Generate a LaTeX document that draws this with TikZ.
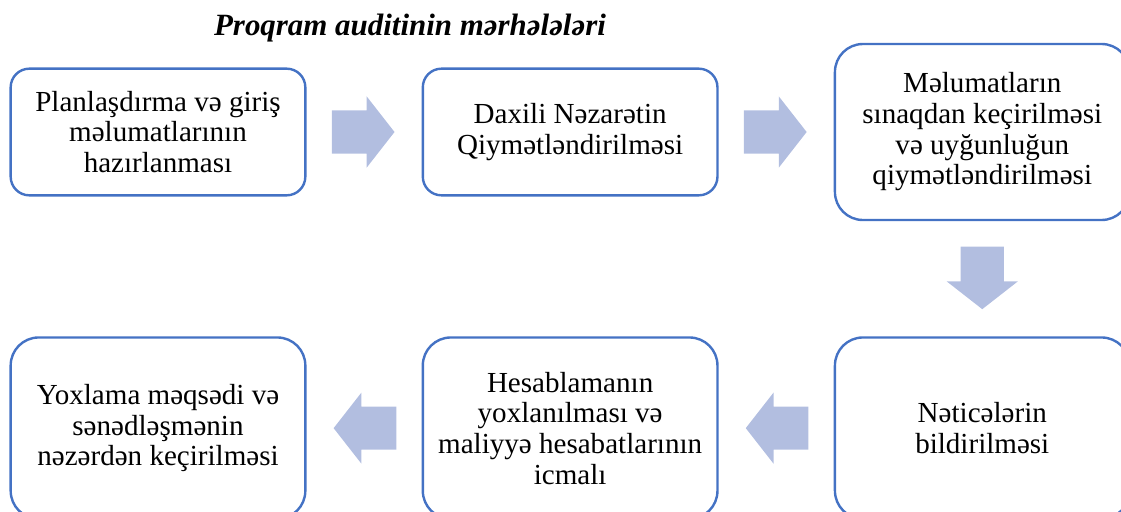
\documentclass[tikz,border=0pt]{standalone}
\usepackage{fontspec}
\setmainfont{Liberation Serif}
\usepackage{tikz}
\usetikzlibrary{positioning}
\usetikzlibrary{shapes,arrows,calc}
\definecolor{boxblue}{RGB}{68,114,196}
\definecolor{arrowfill}{RGB}{178,190,224}

\begin{document}
\begin{tikzpicture}[x=0.75pt, y=-0.75pt, node distance=86.3pt,
    stage/.style={draw=boxblue, line width=1.8pt, rectangle, rounded corners=14pt,
      fill=white, align=center, minimum width=221pt, inner sep=4pt,
      font=\fontsize{21.8}{23}\selectfont},
    tall/.style={rounded corners=21pt, minimum height=136pt},
    flowarrow/.style={single arrow, fill=arrowfill, inner xsep=0pt, inner ysep=16pt,
      minimum height=47pt, minimum width=53pt,
      single arrow head extend=10.5pt, single arrow tip angle=104,
      rotate=#1, xshift=-7pt},
    flowarrow/.default=0]
    \useasboundingbox (0,0) rectangle (1121,511);
    \clip (0,0) rectangle (1121,511);
    % Title
    \node [anchor=base, font=\fontsize{23.2}{25}\selectfont\bfseries\itshape] (title) at (410,35) {Proqram auditinin mərhələləri};
    % Nodes
    \node [stage, minimum height=95pt] (plan) at (158,132) {Planlaşdırma və giriş\\ məlumatlarının\\ hazırlanması};
    \node [stage, minimum height=95pt, right=of plan] (control) {Daxili Nəzarətin\\ Qiymətləndirilməsi};
    \node [stage, tall, minimum height=132pt, right=of control] (testing) {Məlumatların\\ sınaqdan keçirilməsi\\ və uyğunluğun\\ qiymətləndirilməsi};
    \node [stage, tall, below=of testing] (report) {Nəticələrin\\ bildirilməsi};
    \node [stage, tall, left=of report] (review) {Hesablamanın\\ yoxlanılması və\\ maliyyə hesabatlarının\\ icmalı};
    \node [stage, tall, left=of review] (purpose) {Yoxlama məqsədi və\\ sənədləşmənin\\ nəzərdən keçirilməsi};
    % Arrows
    \node [flowarrow] (a1) at ($(plan.east)!0.5!(control.west)$) {};
    \node [flowarrow] (a2) at ($(control.east)!0.5!(testing.west)$) {};
    \node [flowarrow=-90] (a3) at ($(testing.south)!0.5!(report.north)$) {};
    \node [flowarrow=180] (a4) at ($(report.west)!0.5!(review.east)$) {};
    \node [flowarrow=180] (a5) at ($(review.west)!0.5!(purpose.east)$) {};
\end{tikzpicture}
\end{document}
